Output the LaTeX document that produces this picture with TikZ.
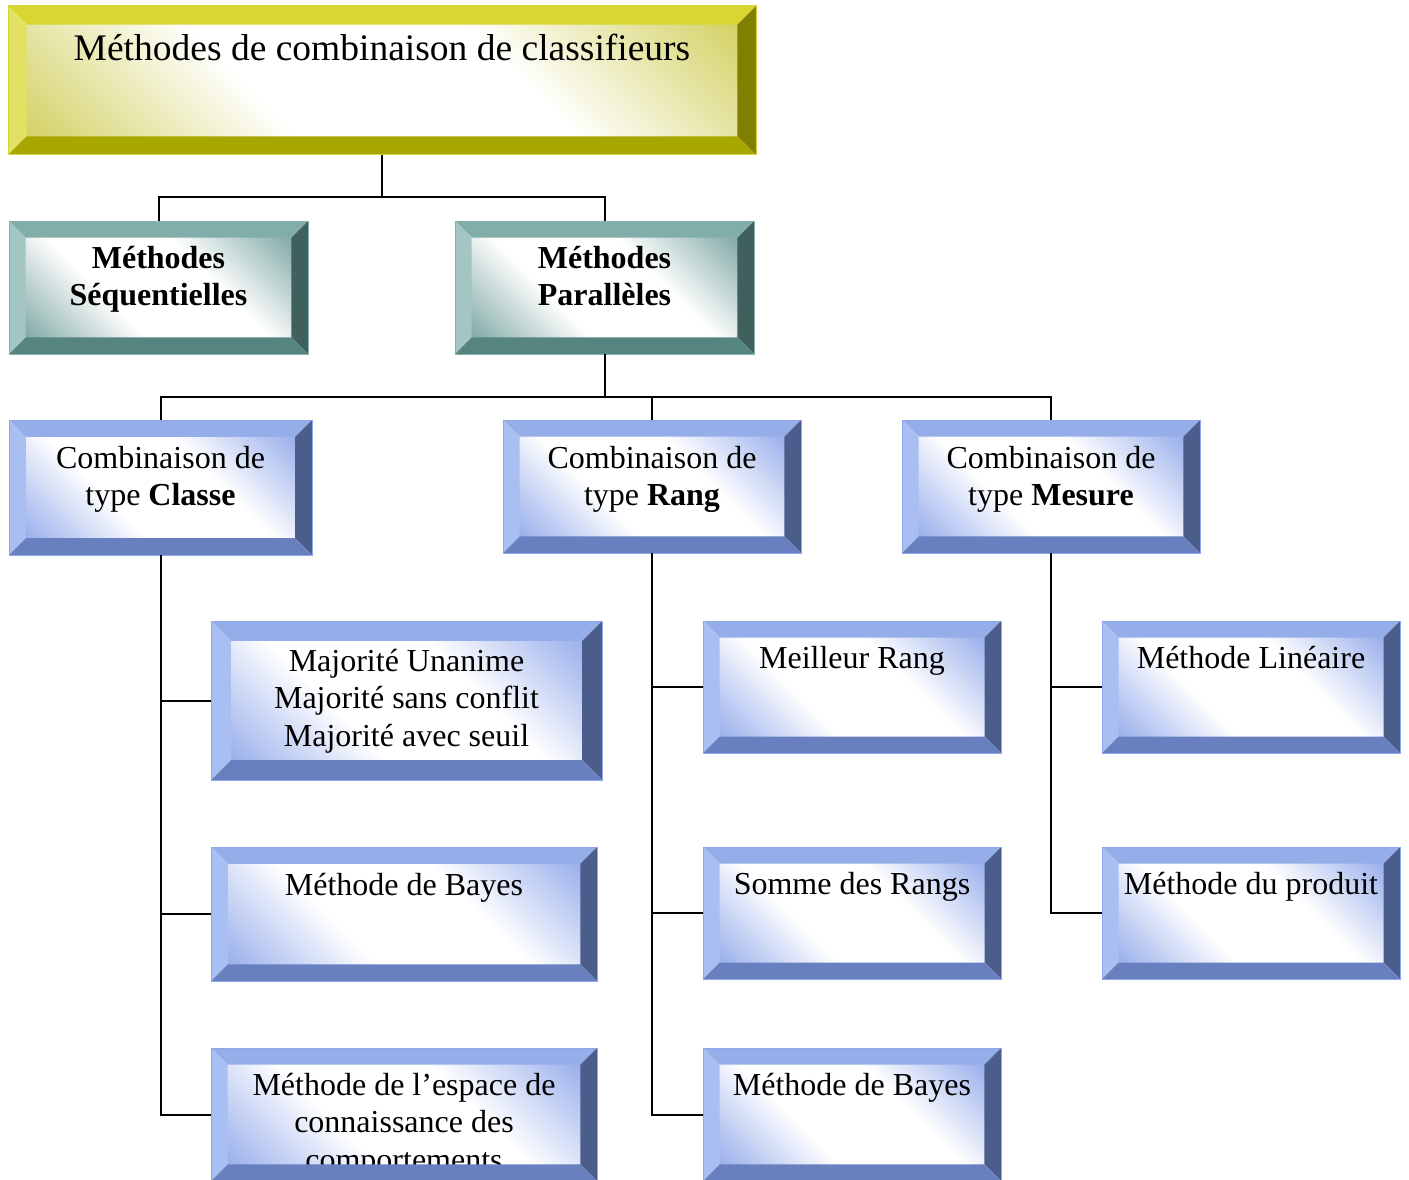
\documentclass[tikz,border=0pt]{standalone}
\usepackage{fontspec}
\setmainfont{Liberation Serif}

% bevel palettes: top, left, right, bottom faces, outline, centre tint
\definecolor{bluetop}{HTML}{95AEEA}
\definecolor{blueleft}{HTML}{A9BEF1}
\definecolor{blueright}{HTML}{4B5E8B}
\definecolor{bluebottom}{HTML}{6880BF}
\definecolor{blueedge}{HTML}{8DA7EB}
\definecolor{bluetint}{HTML}{8FA7EA}
\definecolor{tealtop}{HTML}{82AEAA}
\definecolor{tealleft}{HTML}{A3C6C2}
\definecolor{tealright}{HTML}{3F605D}
\definecolor{tealbottom}{HTML}{568481}
\definecolor{tealedge}{HTML}{84B0AC}
\definecolor{tealtint}{HTML}{74A19D}
\definecolor{yellowtop}{HTML}{D9D631}
\definecolor{yellowleft}{HTML}{E3E164}
\definecolor{yellowright}{HTML}{808000}
\definecolor{yellowbottom}{HTML}{A8A700}
\definecolor{yellowedge}{HTML}{D8D640}
\definecolor{yellowtint}{HTML}{CFCD55}

% centre faces: tinted at two opposite corners, white along the other diagonal
\pgfdeclareverticalshading{innerblue}{100bp}{color(0bp)=(bluetint); color(12bp)=(bluetint); color(38bp)=(white); color(62bp)=(white); color(88bp)=(bluetint); color(100bp)=(bluetint)}
\pgfdeclareverticalshading{innerteal}{100bp}{color(0bp)=(tealtint); color(12bp)=(tealtint); color(38bp)=(white); color(62bp)=(white); color(88bp)=(tealtint); color(100bp)=(tealtint)}
\pgfdeclareverticalshading{inneryellow}{100bp}{color(0bp)=(yellowtint); color(12bp)=(yellowtint); color(38bp)=(white); color(62bp)=(white); color(88bp)=(yellowtint); color(100bp)=(yellowtint)}

\tikzset{
  frame/.style={rectangle, inner sep=0pt, outer sep=0pt},
  boxtext/.style={inner sep=0pt, align=center, font=\fontsize{32}{37.5}\selectfont},
  link/.style={line width=2pt, draw=black},
}

% bevelled box: name, x1, y1, x2, y2 (pixels, y downwards), palette, text offset, text
\newcommand\bevbox[8]{%
  \pgfmathsetmacro\bw{#4-#2}%
  \pgfmathsetmacro\bh{#5-#3}%
  \pgfmathsetmacro\bv{\bh/8}%
  \node[frame, minimum width=\bw pt, minimum height=\bh pt] (#1) at ({(#2+#4)/2},{-(#3+#5)/2}) {};
  \shade[shading=inner#6, shading angle=-45]
    ([shift={(\bv,-\bv)}]#1.north west) rectangle ([shift={(-\bv,\bv)}]#1.south east);
  \node[boxtext, anchor=north] (#1-text) at ([yshift=-#7pt]#1.north) {#8};
  \fill[#6top] (#1.north west) -- (#1.north east) -- ([shift={(-\bv,-\bv)}]#1.north east)
    -- ([shift={(\bv,-\bv)}]#1.north west) -- cycle;
  \fill[#6left] (#1.north west) -- ([shift={(\bv,-\bv)}]#1.north west)
    -- ([shift={(\bv,\bv)}]#1.south west) -- (#1.south west) -- cycle;
  \fill[#6right] (#1.north east) -- (#1.south east) -- ([shift={(-\bv,\bv)}]#1.south east)
    -- ([shift={(-\bv,-\bv)}]#1.north east) -- cycle;
  \fill[#6bottom] (#1.south west) -- (#1.south east) -- ([shift={(-\bv,\bv)}]#1.south east)
    -- ([shift={(\bv,\bv)}]#1.south west) -- cycle;
  \draw[#6edge, line width=1pt] (#1.north west) rectangle (#1.south east);
}

\begin{document}
\begin{tikzpicture}[x=1pt, y=1pt]
\useasboundingbox (0,0) rectangle (1409,-1180);

% junction points of the tree
\coordinate (j1) at (382,-197);
\coordinate (j2) at (604.5,-397);

\bevbox{root}{8}{6}{756}{155}{yellow}{28}{\fontsize{37.5}{42}\selectfont Méthodes de combinaison de classifieurs}

\bevbox{seq}{9}{221}{308}{354}{teal}{25}{\textbf{Méthodes}\\\textbf{Séquentielles}}
\bevbox{par}{455}{221}{754}{354}{teal}{25}{\textbf{Méthodes}\\\textbf{Parallèles}}

\bevbox{cls}{9}{420}{312}{555}{blue}{26}{Combinaison de\\type \textbf{Classe}}
\bevbox{rng}{503}{420}{801}{553}{blue}{26}{Combinaison de\\type \textbf{Rang}}
\bevbox{mes}{902}{420}{1200}{553}{blue}{26}{Combinaison de\\type \textbf{Mesure}}

\bevbox{maj}{211}{621}{602}{780}{blue}{28}{Majorité Unanime\\Majorité sans conflit\\Majorité avec seuil}
\bevbox{bay}{211}{847}{597}{981}{blue}{26}{Méthode de Bayes}
\bevbox{esp}{211}{1048}{597}{1181}{blue}{25}{Méthode de l’espace de\\connaissance des\\comportements}

\bevbox{mei}{703}{621}{1001}{753}{blue}{25}{Meilleur Rang}
\bevbox{som}{703}{847}{1001}{979}{blue}{25}{Somme des Rangs}
\bevbox{bayr}{703}{1048}{1001}{1181}{blue}{25}{Méthode de Bayes}

\bevbox{lin}{1102}{621}{1400}{753}{blue}{25}{Méthode Linéaire}
\bevbox{pro}{1102}{847}{1400}{979}{blue}{25}{Méthode du produit}

% tree connectors
\draw[link] (root.south) -- (j1);
\draw[link] (seq.north) |- (j1) -| (par.north);
\draw[link] (par.south) -- (j2);
\draw[link] (cls.north) |- (j2) -| (mes.north);
\draw[link] (rng.north) -- (rng.north |- j2);

\draw[link] (cls.south) |- (esp.west);
\draw[link] (maj.west) -- (maj.west -| cls.south);
\draw[link] (bay.west) -- (bay.west -| cls.south);

\draw[link] (rng.south) |- (bayr.west);
\draw[link] (mei.west) -- (mei.west -| rng.south);
\draw[link] (som.west) -- (som.west -| rng.south);

\draw[link] (mes.south) |- (pro.west);
\draw[link] (lin.west) -- (lin.west -| mes.south);
\end{tikzpicture}
\end{document}
